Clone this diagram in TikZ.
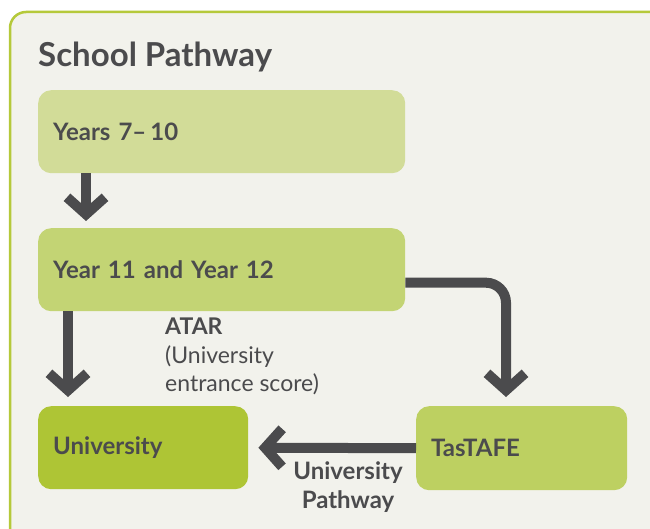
\documentclass[tikz,border=0pt]{standalone}
\usepackage{fontspec}
\setmainfont{Lato}
\usetikzlibrary{arrows.meta}
\definecolor{panelbg}{HTML}{F2F2EC}
\definecolor{panelline}{HTML}{B5C93A}
\definecolor{juniorgreen}{HTML}{D2DC98}
\definecolor{seniorgreen}{HTML}{C3D474}
\definecolor{unigreen}{HTML}{AEC535}
\definecolor{tafegreen}{HTML}{BDD061}
\definecolor{darkgrey}{HTML}{4B4B4D}
\tikzset{
  stage/.style={anchor=north west, rounded corners=13pt, inner xsep=15pt, align=left,
    font=\fontsize{24}{28}\selectfont\bfseries, text=darkgrey},
  flow/.style={draw=darkgrey, line width=10pt,
    -{Straight Barb[length=17pt, width=38pt, line width=10pt]}}
}
\begin{document}
\begin{tikzpicture}[x=1pt,y=-1pt]
        \useasboundingbox (0,0) rectangle (650,529);
        \clip (0,0) rectangle (650,529);
        \fill[white] (0,0) rectangle (650,529);
        \draw[panelline, fill=panelbg, line width=2.5pt, rounded corners=16pt] (10,12) rectangle (700,560);
        \node[anchor=base west, inner sep=0pt, text=darkgrey, font=\fontsize{33}{38}\selectfont\bfseries] (title) at (38,67) {School Pathway};
        \node[stage, fill=juniorgreen, text width=337pt, minimum height=83pt] (junior) at (38,90) {Years 7--\,10};
        \node[stage, fill=seniorgreen, text width=337pt, minimum height=83pt] (senior) at (38,228) {Year 11 and Year 12};
        \node[stage, fill=unigreen, text width=180pt, minimum height=83pt] (uni) at (38,406) {University};
        \node[stage, fill=tafegreen, text width=181pt, minimum height=84pt] (tafe) at (416,406) {TasTAFE};
        \node[anchor=north west, align=left, inner sep=0pt, text=darkgrey, font=\fontsize{23}{28.5}\selectfont] (atar) at (165,318) {\textbf{ATAR}\\(University\\entrance score)};
        \node[align=center, inner sep=0pt, text=darkgrey, font=\fontsize{24}{29}\selectfont\bfseries] (unipath) at (348,487) {University\\Pathway};
        \draw[flow, shorten >=7pt] ([xshift=48pt]junior.south west) -- ([xshift=48pt]senior.north west);
        \draw[flow, shorten >=9pt] ([xshift=30pt]senior.south west) -- ([xshift=30pt]uni.north west);
        \draw[flow, shorten >=9pt, rounded corners=20pt] ([yshift=-13pt]senior.east) -| ([xshift=90pt]tafe.north west);
        \draw[flow, shorten >=10pt] (tafe.west) -- (uni.east);
    \end{tikzpicture}
\end{document}
